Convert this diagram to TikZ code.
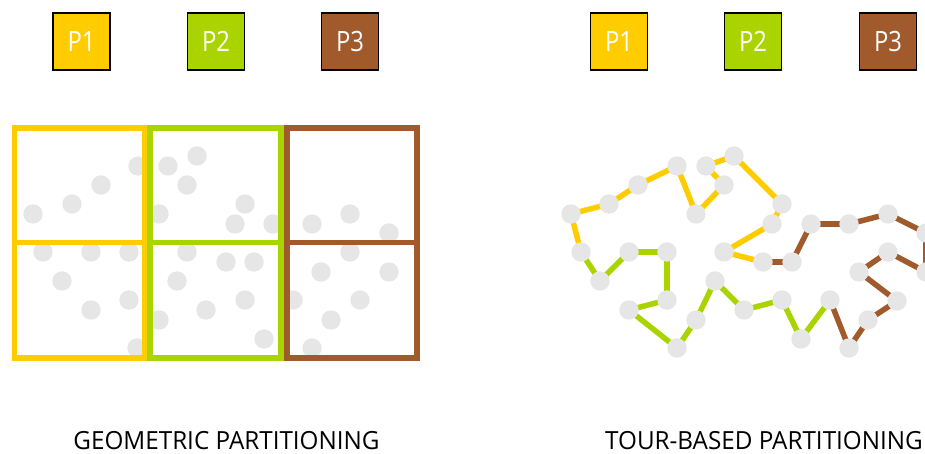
\documentclass[tikz,border=0pt]{standalone}
\usepackage{fontspec}
\setmainfont{Open Sans}
\newfontfamily\capfont[FakeStretch=0.97]{Open Sans}
\newfontfamily\tagfont[FakeStretch=0.85]{Open Sans}
\usetikzlibrary{positioning}
\definecolor{pyellow}{HTML}{FFCC00}
\definecolor{pgreen}{HTML}{AAD400}
\definecolor{pbrown}{HTML}{A05A2C}
\definecolor{dotgray}{HTML}{E6E6E6}
\pgfdeclarelayer{back}
\pgfsetlayers{back,main}

\begin{document}
\begin{tikzpicture}[x=1pt, y=-1pt,
  dot/.style={circle, fill=dotgray, minimum size=19.4pt, inner sep=0pt},
  tag/.style={draw=black, line width=1.4pt, minimum size=57pt, inner sep=0pt,
    text=white, font=\tagfont\fontsize{28}{28}\selectfont},
  cell/.style={line width=5.3pt},
  link/.style={line width=5.5pt},
  caption/.style={anchor=base, inner sep=0pt, font=\capfont\fontsize{25}{25}\selectfont}]
  \useasboundingbox (0,0) rectangle (925,454);

  % partition tags
  \node[tag, fill=pyellow] (l1) at (81.5,41.5) {P1};
  \node[tag, fill=pgreen]  (l2) at (216,41.5)  {P2};
  \node[tag, fill=pbrown]  (l3) at (350,41.5)  {P3};
  \node[tag, fill=pyellow] (r1) at (619,41.5)  {P1};
  \node[tag, fill=pgreen]  (r2) at (753,41.5)  {P2};
  \node[tag, fill=pbrown]  (r3) at (888,41.5)  {P3};

  % geometric: points, then cells on top
  \foreach \x/\y [count=\k] in {138/166, 101/185, 72/204, 33/214, 168/166, 197/156,
      187/185, 245/204, 159/214, 235/224, 273/224, 312/224, 350/214, 389/233,
      43/252, 91/252, 129/252, 187/252, 226/262, 254/262, 350/252, 321/272,
      389/272, 62/281, 177/281, 129/300, 91/310, 245/300, 206/310, 159/320,
      293/300, 360/300, 331/320, 137/348, 264/339, 312/348}
    \node[dot] (d\k) at (\x,\y) {};
  \draw[cell, pyellow] (14.3,128) rectangle (144.3,358) (14.3,242.7) -- (144.3,242.7);
  \draw[cell, pgreen]  (150,128) rectangle (281,358) (150,242.7) -- (281,242.7);
  \draw[cell, pbrown]  (287,128) rectangle (417,358) (287,242.7) -- (417,242.7);

  % tour
  \foreach \x/\y [count=\k] in {763/262, 724/252, 772/224, 782/204, 734/156, 706/166,
      724/185, 696/214, 677/166, 638/185, 609/204, 571/214}
    \node[dot] (y\k) at (\x,\y) {};
  \foreach \x/\y [count=\k] in {581/252, 600/281, 629/252, 667/252, 667/300, 629/310,
      677/348, 696/320, 715/281, 744/310, 782/300, 801/339}
    \node[dot] (g\k) at (\x,\y) {};
  \foreach \x/\y [count=\k] in {830/300, 849/348, 868/320, 897/301, 859/272, 888/252,
      926/272, 926/233, 888/214, 849/224, 811/224, 792/262}
    \node[dot] (b\k) at (\x,\y) {};
  \begin{pgfonlayer}{back}
    \foreach \p/\n/\col in {y/g/pyellow, g/b/pgreen, b/y/pbrown} {
      \foreach \i [evaluate=\i as \j using int(\i+1)] in {1,...,11}
        \draw[link, \col] (\p\i.center) -- (\p\j.center);
      \draw[link, \col] (\p12.center) -- (\n1.center);
    }
  \end{pgfonlayer}

  % captions
  \node[caption] (geo) at (226.5,449) {GEOMETRIC PARTITIONING};
  \node[caption] (tour) at (764,449) {TOUR-BASED PARTITIONING};
\end{tikzpicture}
\end{document}
